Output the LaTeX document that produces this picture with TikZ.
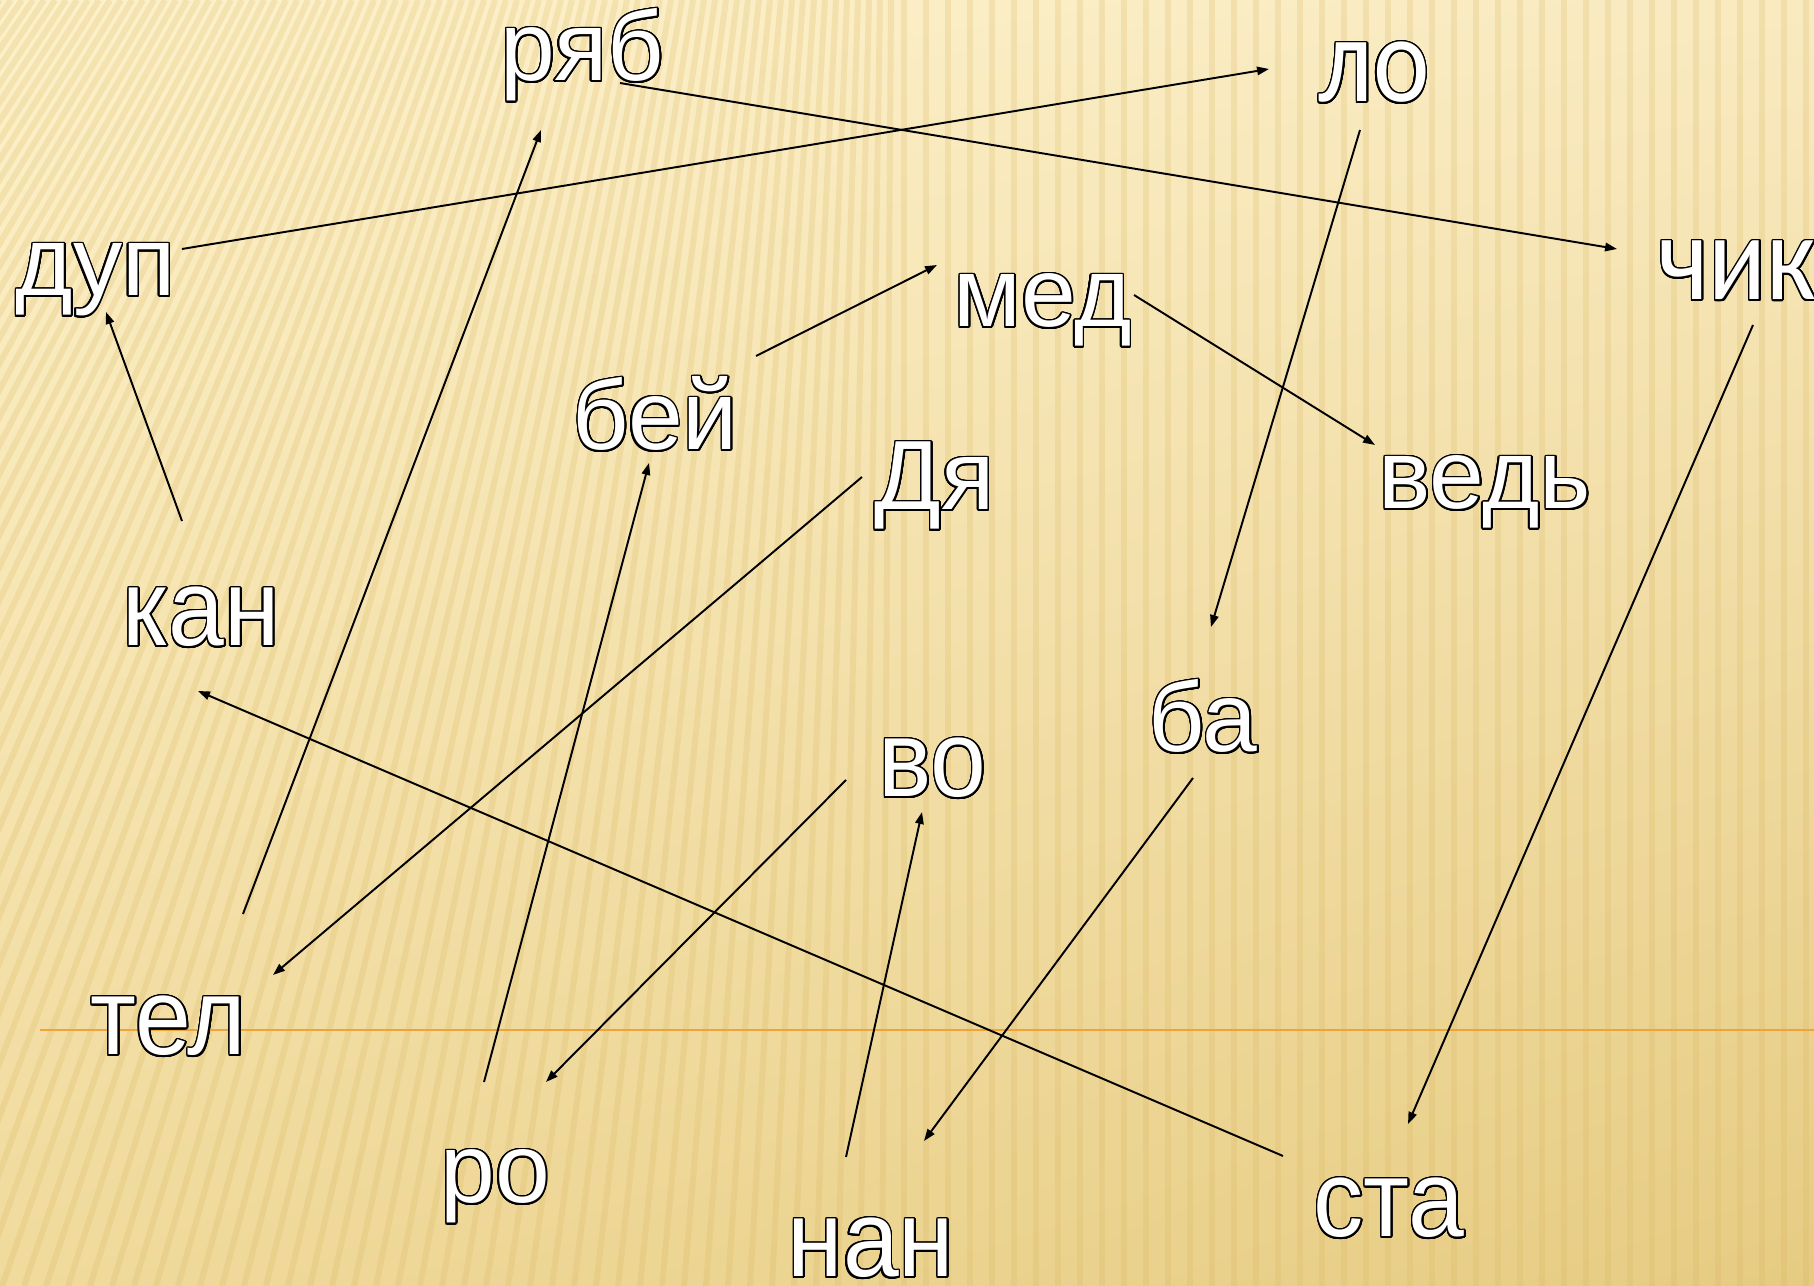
\documentclass[tikz,border=0pt]{standalone}
\usepackage{fontspec}
\usepackage{contour}
\usetikzlibrary{arrows.meta, shadings}
\newfontfamily\wordfont{Liberation Sans}
\newfontfamily\narrowfont[FakeStretch=0.92]{Liberation Sans}
\newfontfamily\calfont[FakeStretch=0.87]{Carlito}
\definecolor{slidetl}{HTML}{FDF1CA}
\definecolor{slidetr}{HTML}{F9EAC0}
\definecolor{slidebl}{HTML}{F0DA9C}
\definecolor{slidebr}{HTML}{E6CB82}
\definecolor{stripecol}{HTML}{D8B45C}
\definecolor{rulecol}{HTML}{EFA43A}
\contourlength{0.45pt}
\contournumber{24}
\newcommand{\hollow}[1]{\contour{black}{#1}}

\begin{document}
\begin{tikzpicture}[x=0.01cm, y=-0.01cm,
    word/.style={inner sep=0pt, anchor=base west, text=white,
                 font=\wordfont\fontsize{28}{28}\selectfont},
    nword/.style={inner sep=0pt, anchor=base west, text=white,
                  font=\narrowfont\fontsize{31}{31}\selectfont},
    cword/.style={inner sep=0pt, anchor=base west, text=white,
                  font=\calfont\fontsize{35}{35}\selectfont},
    stripe/.style={draw=stripecol, line width=1.7pt, opacity=0.22},
    arr/.style={-{Triangle[length=3.4pt,width=2.4pt]}, line width=0.55pt, black}
  ]
    \useasboundingbox (0,0) rectangle (1814,1286);
    \shade[upper left=slidetl, upper right=slidetr, lower left=slidebl, lower right=slidebr]
      (0,0) rectangle (1814,1286);
    \begin{scope}
      \clip (0,0) rectangle (1814,1286);
      \foreach \x in {-900,-878,...,1814} {
        \pgfmathsetmacro\tx{\x+max(0,0.5*(900-\x))}
        \draw[stripe] (\x,1286) -- (\tx,0);
      }
    \end{scope}
    \draw[rulecol, line width=0.6pt] (40,1030) -- (1814,1030);

    % syllables
    \node[word] (ryab) at (500,81) {\hollow{ряб}};
    \node[cword] (lo) at (1318,102) {\hollow{ло}};
    \node[word] (dup) at (15,296) {\hollow{дуп}};
    \node[cword] (chik) at (1658,300) {\hollow{чик}};
    \node[word] (med) at (953,327) {\hollow{мед}};
    \node[word] (bei) at (572,450) {\hollow{бей}};
    \node[word] (dya) at (874,510) {\hollow{Дя}};
    \node[word] (ved) at (1378,509) {\hollow{ведь}};
    \node[nword] (kan) at (122,646) {\hollow{кан}};
    \node[word] (ba) at (1148,752) {\hollow{ба}};
    \node[nword] (vo) at (878,797) {\hollow{во}};
    \node[nword] (tel) at (90,1055) {\hollow{тел}};
    \node[word] (ro) at (440,1203) {\hollow{ро}};
    \node[nword] (nan) at (787,1277) {\hollow{нан}};
    \node[nword] (sta) at (1313,1237) {\hollow{ста}};

    % links
    \draw[arr] ([shift={(167,-47)}]dup.base west) -- ([shift={(-49,-33)}]lo.base west);
    \draw[arr] ([shift={(120,2)}]ryab.base west) -- ([shift={(-41,-51)}]chik.base west);
    \draw[arr] ([shift={(42,28)}]lo.base west) -- ([shift={(63,-125)}]ba.base west);
    \draw[arr] ([shift={(184,-94)}]bei.base west) -- ([shift={(-16,-62)}]med.base west);
    \draw[arr] ([shift={(181,-32)}]med.base west) -- ([shift={(-3,-64)}]ved.base west);
    \draw[arr] ([shift={(60,-125)}]kan.base west) -- ([shift={(91,16)}]dup.base west);
    \draw[arr] ([shift={(153,-141)}]tel.base west) -- ([shift={(41,49)}]ryab.base west);
    \draw[arr] ([shift={(-12,-33)}]dya.base west) -- ([shift={(183,-80)}]tel.base west);
    \draw[arr] ([shift={(44,-121)}]ro.base west) -- ([shift={(77,13)}]bei.base west);
    \draw[arr] ([shift={(-30,-81)}]sta.base west) -- ([shift={(76,45)}]kan.base west);
    \draw[arr] ([shift={(-32,-17)}]vo.base west) -- ([shift={(106,-121)}]ro.base west);
    \draw[arr] ([shift={(59,-120)}]nan.base west) -- ([shift={(44,15)}]vo.base west);
    \draw[arr] ([shift={(45,26)}]ba.base west) -- ([shift={(137,-136)}]nan.base west);
    \draw[arr] ([shift={(95,25)}]chik.base west) -- ([shift={(95,-113)}]sta.base west);
  \end{tikzpicture}
\end{document}
